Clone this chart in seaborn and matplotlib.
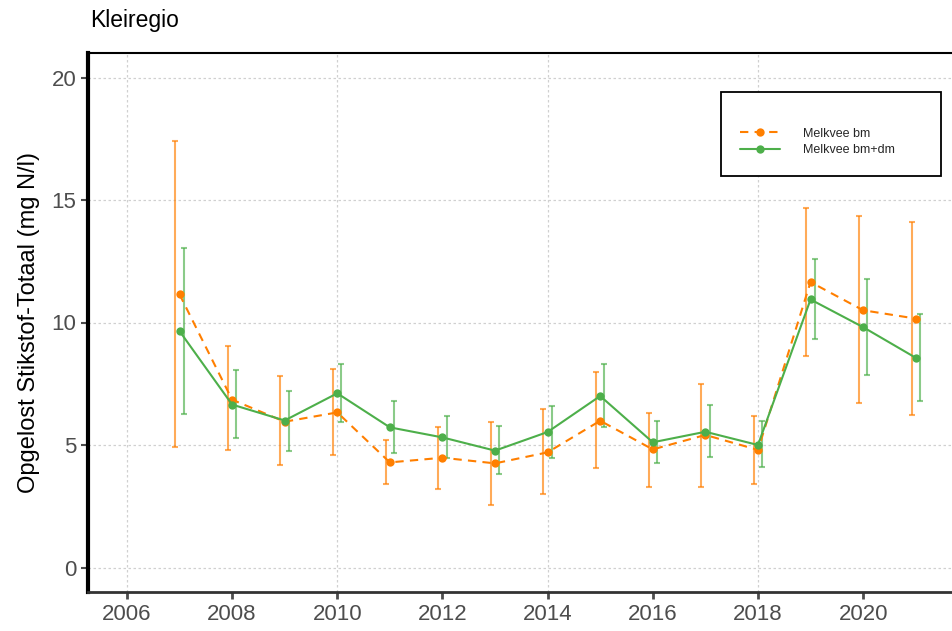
import pandas as pd
import numpy as np
import matplotlib
matplotlib.use("Agg")
import matplotlib.pyplot as plt
import seaborn as sns

# data
jaren = [2007, 2008, 2009, 2010, 2011, 2012, 2013, 2014, 2015, 2016, 2017, 2018, 2019, 2020, 2021]

bm_gem = [11.15, 6.85, 5.95, 6.33, 4.29, 4.48, 4.25, 4.70, 5.99, 4.82, 5.41, 4.80, 11.65, 10.50, 10.16]
bm_laag = [4.90, 4.80, 4.20, 4.59, 3.41, 3.22, 2.55, 3.00, 4.05, 3.30, 3.30, 3.40, 8.63, 6.72, 6.24]
bm_hoog = [17.40, 9.05, 7.80, 8.09, 5.20, 5.75, 5.95, 6.46, 7.98, 6.31, 7.50, 6.20, 14.68, 14.34, 14.11]

bmdm_gem = [9.65, 6.65, 6.00, 7.11, 5.72, 5.31, 4.77, 5.53, 7.00, 5.11, 5.54, 5.00, 10.94, 9.81, 8.56]
bmdm_laag = [6.25, 5.30, 4.75, 5.95, 4.66, 4.48, 3.82, 4.46, 5.75, 4.25, 4.50, 4.10, 9.31, 7.85, 6.79]
bmdm_hoog = [13.05, 8.05, 7.20, 8.29, 6.80, 6.17, 5.76, 6.59, 8.29, 5.97, 6.65, 6.00, 12.60, 11.78, 10.33]

REEKSEN = ["Melkvee bm", "Melkvee bm+dm"]
KLEUREN = {"Melkvee bm": "#FF7F00", "Melkvee bm+dm": "#4DAF4A"}

# long-form table for seaborn
df = pd.DataFrame({
    "jaar": jaren * 2,
    "waarde": bm_gem + bmdm_gem,
    "laag": bm_laag + bmdm_laag,
    "hoog": bm_hoog + bmdm_hoog,
    "reeks": [REEKSEN[0]] * len(jaren) + [REEKSEN[1]] * len(jaren),
})

sns.set_style("white")
plt.rcParams["font.family"] = ["Liberation Sans", "DejaVu Sans"]

fig = plt.figure(figsize=(9.52, 6.31), dpi=100)
ax = fig.add_axes([88 / 952, 39 / 631, 864 / 952, 539 / 631])

# grid: horizontal every 5, vertical every 4 years
for yv in [0, 5, 10, 15, 20]:
    ax.axhline(yv, color="#d0d0d0", lw=0.9, ls=(0, (2, 2)), zorder=0)
for xv in [2006, 2010, 2014, 2018]:
    ax.axvline(xv, color="#d0d0d0", lw=0.9, ls=(0, (2, 2)), zorder=0)

# error bars, slightly dodged
dodge = {"Melkvee bm": -0.08, "Melkvee bm+dm": 0.08}
for reeks in REEKSEN:
    sub = df[df["reeks"] == reeks]
    ax.errorbar(sub["jaar"] + dodge[reeks], sub["waarde"],
                yerr=[sub["waarde"] - sub["laag"], sub["hoog"] - sub["waarde"]],
                fmt="none", ecolor=KLEUREN[reeks], alpha=0.65, elinewidth=1.5,
                capsize=2, capthick=1.5, zorder=2)

sns.lineplot(data=df, x="jaar", y="waarde", hue="reeks", style="reeks",
             palette=KLEUREN, markers={"Melkvee bm": "o", "Melkvee bm+dm": "o"},
             dashes={"Melkvee bm": (4, 3), "Melkvee bm+dm": ""},
             markersize=6, markeredgewidth=0, linewidth=1.5, ax=ax, zorder=3)

ax.set_xlim(2005.26, 2021.69)
ax.set_ylim(-1, 21)
ax.set_xticks(range(2006, 2021, 2))
ax.set_yticks([0, 5, 10, 15, 20])
ax.set_xlabel("")
ax.set_ylabel("Opgelost Stikstof-Totaal (mg N/l)", fontsize=17, color="black", labelpad=8)
ax.tick_params(axis="x", labelsize=16, colors="#4d4d4d", length=5, width=2, direction="out", bottom=True)
ax.tick_params(axis="y", labelsize=16, colors="#4d4d4d", length=5, width=1.5, direction="out", left=True)
for t in ax.yaxis.get_ticklines():
    t.set_color("black")

ax.spines["right"].set_visible(False)
ax.spines["left"].set_color("black")
ax.spines["left"].set_linewidth(3)
ax.spines["top"].set_color("black")
ax.spines["top"].set_linewidth(1.5)
ax.spines["bottom"].set_color("#333333")
ax.spines["bottom"].set_linewidth(2)

# legend
handles, labels = ax.get_legend_handles_labels()
leg = ax.legend(handles, labels, loc="upper left", mode="expand",
                bbox_to_anchor=(721 / 952, 1 - 92 / 631, 220 / 952, 0),
                bbox_transform=fig.transFigure, borderaxespad=0,
                fontsize=9, title=" ", title_fontsize=9, frameon=True,
                fancybox=False, framealpha=1, edgecolor="black",
                handlelength=3.2, handletextpad=1.8, labelspacing=0.35, borderpad=1.55)
leg.get_frame().set_linewidth(1.3)

fig.text(90 / 952, 1 - 20 / 631, "Kleiregio", fontsize=16.5, ha="left", va="center", color="black")

fig.savefig("out.png", dpi=100)
